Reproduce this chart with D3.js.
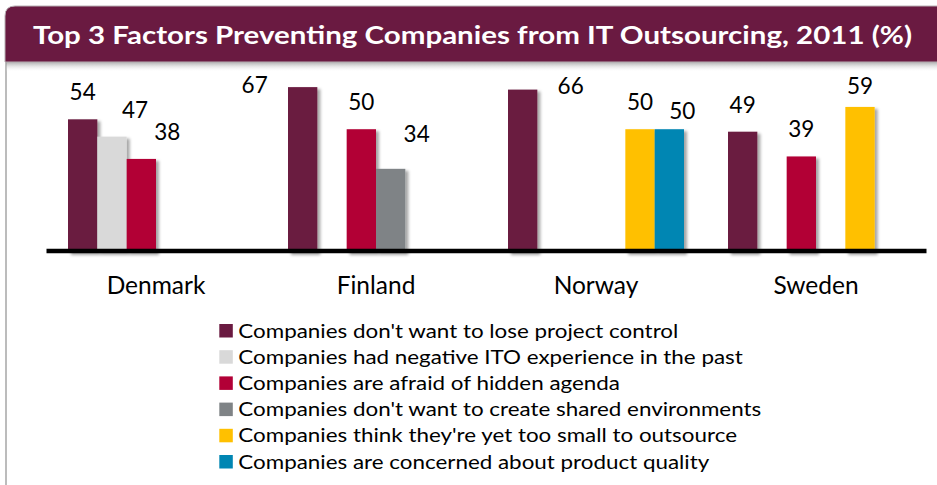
<!DOCTYPE html>
<html>
<head>
<meta charset="utf-8">
<script src="https://cdn.jsdelivr.net/npm/d3@7"></script>
<style>
    body { margin: 0; background: #fff; }
    svg { display: block; }
    text { font-family: Lato, "Noto Sans", sans-serif; }
</style>
</head>
<body>
<div id="chart"></div>
<script>
// Data
const countries = ["Denmark", "Finland", "Norway", "Sweden"];
const factors = [
    "Companies don't want to lose project control",
    "Companies had negative ITO experience in the past",
    "Companies are afraid of hidden agenda",
    "Companies don't want to create shared environments",
    "Companies think they're yet too small to outsource",
    "Companies are concerned about product quality"
];
// one array per factor, one value per country (null = not in top 3)
const loseControl = [54, 67, 66, 49];
const negativeExperience = [47, null, null, null];
const hiddenAgenda = [38, 50, null, 39];
const sharedEnvironments = [null, 34, null, null];
const tooSmall = [null, null, 50, 59];
const productQuality = [null, null, 50, null];
const seriesValues = [loseControl, negativeExperience, hiddenAgenda, sharedEnvironments, tooSmall, productQuality];
const colors = ["#6a1a41", "#d9d9d9", "#b20036", "#7f8386", "#ffc000", "#0086b3"];
const title = "Top 3 Factors Preventing Companies from IT Outsourcing, 2011 (%)";

// Manual label nudges [dx, dy], keyed "country|factorIndex"
const labelNudge = {
    "Denmark|1": [23, 0], "Denmark|2": [26, 0],
    "Finland|0": [-48, 25], "Finland|3": [26, -8],
    "Norway|0": [48, 23], "Norway|5": [13, 9],
    "Sweden|4": [0, 6]
};

// Configuration
const config = {
    width: 937,
    height: 485,
    plotLeft: 46,
    plotRight: 926,
    baseline: 253,
    top: 79.7
};

const svg = d3.select("#chart")
    .append("svg")
    .attr("width", config.width)
    .attr("height", config.height);

const defs = svg.append("defs");

// Bar drop shadow
const shadow = defs.append("filter")
    .attr("id", "barShadow")
    .attr("x", "-20%").attr("y", "-10%")
    .attr("width", "160%").attr("height", "130%");
shadow.append("feDropShadow")
    .attr("dx", 3).attr("dy", 2)
    .attr("stdDeviation", 1.8)
    .attr("flood-color", "#000")
    .attr("flood-opacity", 0.35);

// Shadow under the title banner
const bannerShade = defs.append("linearGradient")
    .attr("id", "bannerShade")
    .attr("x1", "0%").attr("y1", "0%")
    .attr("x2", "0%").attr("y2", "100%");
bannerShade.append("stop").attr("offset", "0%").attr("stop-color", "#8a8a8a").attr("stop-opacity", 0.7);
bannerShade.append("stop").attr("offset", "100%").attr("stop-color", "#ffffff").attr("stop-opacity", 0);

// Frame: left border line + banner
svg.append("line")
    .attr("x1", 6).attr("x2", 6)
    .attr("y1", 60).attr("y2", config.height)
    .attr("stroke", "#a6a6a6")
    .attr("stroke-width", 1.5);

svg.append("rect")
    .attr("x", 6).attr("y", 62)
    .attr("width", config.width).attr("height", 10)
    .attr("fill", "url(#bannerShade)");

svg.append("path")
    .attr("d", `M5,62 V16 Q5,6 15,6 H${config.width + 5} V62 Z`)
    .attr("fill", "#6a1a41")
    .attr("stroke", "#b8b0b4")
    .attr("stroke-width", 1);

svg.append("text")
    .attr("x", 33)
    .attr("y", 43.5)
    .attr("fill", "#fff")
    .style("font-size", "25.5px")
    .style("font-weight", "bold")
    .attr("textLength", 879)
    .attr("lengthAdjust", "spacingAndGlyphs")
    .text(title);

// Scales
const x0 = d3.scaleBand()
    .domain(countries)
    .range([config.plotLeft, config.plotRight])
    .paddingInner(0.2)
    .paddingOuter(0.1);

const x1 = d3.scaleBand()
    .domain(d3.range(factors.length))
    .range([0, x0.bandwidth()]);

const y = d3.scaleLinear()
    .domain([0, 70])
    .range([config.baseline, config.top]);

// Flatten into bar records
const bars = [];
seriesValues.forEach((vals, si) => {
    vals.forEach((v, ci) => {
        if (v !== null) bars.push({ country: countries[ci], series: si, value: v });
    });
});

// Bars
svg.append("g")
    .selectAll("rect")
    .data(bars)
    .join("rect")
    .attr("x", d => x0(d.country) + x1(d.series))
    .attr("y", d => y(d.value))
    .attr("width", x1.bandwidth())
    .attr("height", d => y(0) - y(d.value))
    .attr("fill", d => colors[d.series])
    .attr("filter", "url(#barShadow)");

// Baseline (category axis)
const xAxis = d3.axisBottom(x0).tickSize(0).tickPadding(26);
const axisG = svg.append("g")
    .attr("transform", `translate(0, ${config.baseline - 2.5})`)
    .call(xAxis);
axisG.select(".domain")
    .attr("stroke", "#000")
    .attr("stroke-width", 4.5);
axisG.selectAll(".tick text")
    .attr("fill", "#000")
    .style("font-size", "24.5px")
    .style("font-family", "Lato, sans-serif");

// Value labels
svg.append("g")
    .selectAll("text")
    .data(bars)
    .join("text")
    .attr("x", d => {
        const n = labelNudge[`${d.country}|${d.series}`] || [0, 0];
        return x0(d.country) + x1(d.series) + x1.bandwidth() / 2 + n[0];
    })
    .attr("y", d => {
        const n = labelNudge[`${d.country}|${d.series}`] || [0, 0];
        return y(d.value) - 19 + n[1];
    })
    .attr("text-anchor", "middle")
    .attr("fill", "#000")
    .style("font-size", "22.5px")
    .text(d => d.value);

// Legend
const legend = svg.append("g")
    .attr("transform", "translate(219.3, 324)");

const legendRow = legend.selectAll("g")
    .data(factors)
    .join("g")
    .attr("transform", (d, i) => `translate(0, ${i * 26.2})`);

legendRow.append("rect")
    .attr("width", 13.5)
    .attr("height", 13.5)
    .attr("fill", (d, i) => colors[i]);

// Calibri-like proportions: stretch Lato a little horizontally
legendRow.append("text")
    .attr("transform", "translate(19, 13.6) scale(1.12, 1)")
    .attr("fill", "#000")
    .style("font-size", "20px")
    .text(d => d);
</script>
</body>
</html>
